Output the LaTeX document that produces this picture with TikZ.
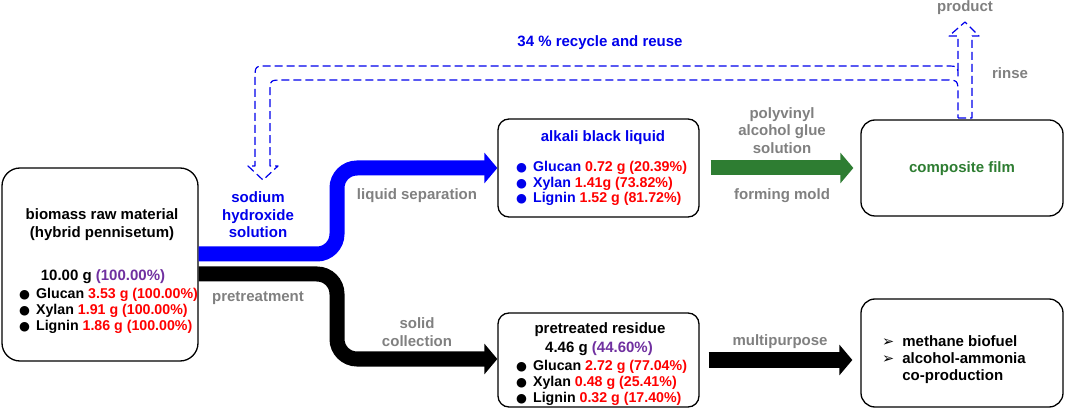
\documentclass[tikz,border=0pt]{standalone}
\usepackage{fontspec}
\setmainfont{Liberation Sans}
\newfontfamily\symfont{DejaVu Sans}
\usetikzlibrary{arrows.meta}

\definecolor{txtblue}{RGB}{0,0,235}
\definecolor{txtred}{RGB}{255,0,0}
\definecolor{txtpurple}{RGB}{112,48,160}
\definecolor{txtgray}{RGB}{128,128,128}
\definecolor{filmgreen}{RGB}{46,125,50}

\newcommand{\dotb}{{\symfont\fontsize{12.5}{12.5}\selectfont ●}\hspace{6pt}}
\newcommand{\tipb}{{\symfont\fontsize{14.5}{12}\selectfont ➢}\hspace{8pt}}
\newcommand{\rd}[1]{\textcolor{txtred}{#1}}

\tikzset{
  box/.style={draw, line width=1.3pt, rounded corners=14pt, inner sep=0pt},
  lbl/.style={inner sep=0pt, font=\fontsize{15}{17.5}\selectfont\bfseries, align=center},
  listlbl/.style={lbl, align=left, anchor=west, font=\fontsize{14.2}{17}\selectfont\bfseries},
  greylbl/.style={lbl, text=txtgray},
  band/.style={line width=15pt, rounded corners=20pt, -{Triangle[length=13pt,width=30pt]}},
  recyc/.style={draw=txtblue, line width=1.2pt, dash pattern=on 8pt off 4pt, line join=round},
}

\begin{document}
\begin{tikzpicture}[x=1pt,y=-1pt]
\useasboundingbox (0,0) rectangle (1065,411);

% Boxes
\node[box, minimum width=196pt, minimum height=193pt, rounded corners=18pt] (raw) at (100,264.5) {};
\node[box, minimum width=201pt, minimum height=98pt, rounded corners=11pt] (alkali) at (598.5,168) {};
\node[box, minimum width=202pt, minimum height=96pt] (film) at (962,168) {};
\node[box, minimum width=201pt, minimum height=94pt, rounded corners=11pt] (residue) at (598.5,360) {};
\node[box, minimum width=202pt, minimum height=108pt] (methane) at (962,353) {};

% Thick arrows
\draw[band, blue] (raw.east |- 0,254) -- (337,254) -- (337,168) -- (alkali.west);
\draw[band, black] (raw.east |- 0,274) -- (337,274) -- (337,359) -- (residue.west |- 0,359);
\draw[band, filmgreen, rounded corners=0pt] ([xshift=11pt]alkali.east) -- ([xshift=-7pt]film.west);
\draw[band, black, rounded corners=0pt] ([xshift=9pt]residue.east |- 0,360) -- ([xshift=-8pt]methane.west |- 0,360);

% Recycle arrow (hollow, dashed)
\coordinate (prod) at (965,22);
\coordinate (naoh) at (263,180);
\draw[recyc] (958,118) -- (972,118) -- (972,36) -- (979,36) -- (prod) -- (949,36) -- (958,36)
  -- (958,76) .. controls (958,66) .. (945,66) -- (268,66) .. controls (255,66) .. (255,79)
  -- (255,166) -- (248,166) -- (naoh) -- (278,166) -- (270,166)
  -- (270,93) .. controls (270,80) .. (283,80) -- (944,80) .. controls (958,80) .. (958,94) -- (958,118);

% Text Node
\node[lbl, text=txtblue] (recycle) at (600,43) {34 \% recycle and reuse};
\node[greylbl] (product) at (965,8) {product};
\node[greylbl] (rinse) at (1010,73) {rinse};
\node[lbl, text=txtblue] (naohtxt) at (258,215) {sodium\\hydroxide\\solution};
\node[greylbl] (liqsep) at (417,196) {liquid separation};
\node[greylbl] (pretreat) at (258,298) {pretreatment};
\node[greylbl] (solid) at (417,332) {solid\\collection};
\node[greylbl] (pva) at (782,130.5) {polyvinyl\\alcohol glue\\solution};
\node[greylbl] (mold) at (782,196) {forming mold};
\node[greylbl] (multi) at (780,342) {multipurpose};

% raw material
\node[lbl] (rawtitle) at (102,224.5) {biomass raw material\\[1pt](hybrid pennisetum)};
\node[lbl] (rawmass) at (103,277) {10.00 g \textcolor{txtpurple}{(100.00\%)}};
\node[listlbl] (rawlist) at (19,311)
  {\dotb Glucan \rd{3.53 g (100.00\%)}\\[-1pt]\dotb Xylan \rd{1.91 g (100.00\%)}\\[-1pt]\dotb Lignin \rd{1.86 g (100.00\%)}};

% alkali black liquid
\node[lbl, text=txtblue] (alktitle) at (603,138) {alkali black liquid};
\node[listlbl, text=txtblue] (alklist) at (516,183.5)
  {\dotb Glucan \rd{0.72 g (20.39\%)}\\[-1.5pt]\dotb Xylan \rd{1.41g (73.82\%)}\\[-1.5pt]\dotb Lignin \rd{1.52 g (81.72\%)}};

% composite film
\node[lbl, text=filmgreen] (filmtxt) at (962,169) {composite film};

% pretreated residue
\node[lbl] (restitle) at (600,330) {pretreated residue};
\node[lbl] (resmass) at (599,349) {4.46 g \textcolor{txtpurple}{(44.60\%)}};
\node[listlbl] (reslist) at (516,383)
  {\dotb Glucan \rd{2.72 g (77.04\%)}\\[-1pt]\dotb Xylan \rd{0.48 g (25.41\%)}\\[-1pt]\dotb Lignin \rd{0.32 g (17.40\%)}};

% uses
\node[lbl, align=left, anchor=west] (uses) at (882,360)
  {\tipb methane biofuel\\[-0.5pt]\tipb alcohol-ammonia\\[-0.5pt]\hphantom{\tipb}co-production};

\end{tikzpicture}
\end{document}
